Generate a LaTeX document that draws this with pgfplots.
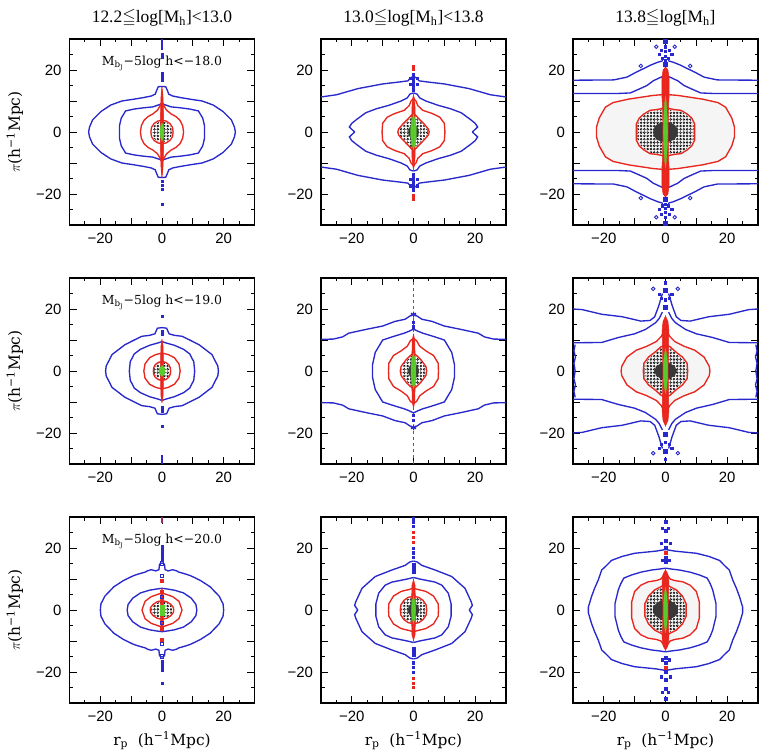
\documentclass[border=0pt]{standalone}
\usepackage{amssymb}
\usepackage{fontspec}
\usepackage{pgfplots}
\pgfplotsset{compat=1.18}
\usepackage{pgfplotstable}
\usetikzlibrary{patterns}
\newfontfamily\ticksf{Liberation Sans}
\newfontfamily\titlef{Liberation Serif}
\newfontfamily\labf{DejaVu Serif}
\definecolor{cblue}{RGB}{40,40,205}
\definecolor{cred}{RGB}{232,38,30}
\definecolor{cgreen}{RGB}{90,205,45}

% small open rings used to shade the innermost density levels
\pgfdeclarepatternformonly{rings}{\pgfqpoint{-1.5pt}{-1.5pt}}{\pgfqpoint{1.5pt}{1.5pt}}%
  {\pgfqpoint{3.3pt}{3.3pt}}%
  {\pgfsetlinewidth{0.5pt}\pgfpathcircle{\pgfqpoint{0pt}{0pt}}{0.95pt}\pgfusepath{stroke}}

% Each contour is stored as one quadrant (rp>=0, pi>=0); the first row is the
% origin, used only to close filled regions. The plots are symmetric in rp and pi.
\newcommand\qline[2]{%
  \addplot[#1, skip coords between index={0}{1}] table {#2};
  \addplot[#1, skip coords between index={0}{1}] table[x expr=-\thisrow{x}] {#2};
  \addplot[#1, skip coords between index={0}{1}] table[y expr=-\thisrow{y}] {#2};
  \addplot[#1, skip coords between index={0}{1}] table[x expr=-\thisrow{x}, y expr=-\thisrow{y}] {#2};
}
\newcommand\qfill[2]{%
  \addplot[#1] table {#2} -- cycle;
  \addplot[#1] table[x expr=-\thisrow{x}] {#2} -- cycle;
  \addplot[#1] table[y expr=-\thisrow{y}] {#2} -- cycle;
  \addplot[#1] table[x expr=-\thisrow{x}, y expr=-\thisrow{y}] {#2} -- cycle;
}

\pgfplotsset{
  panel/.style={
    scale only axis, width=185bp, height=186bp, anchor=south west,
    xmin=-30, xmax=30, ymin=-30, ymax=30,
    xtick={-20,-10,0,10,20}, xticklabels={−20,,0,,20},
    ytick={-20,-10,0,10,20}, yticklabels={−20,,0,,20},
    minor xtick={-25,-15,-5,5,15,25}, minor ytick={-25,-15,-5,5,15,25},
    tick align=inside, major tick length=7bp, minor tick length=3.5bp,
    every tick/.style={black, line width=0.9bp},
    axis line style={line width=1.2bp},
    tick label style={font=\ticksf\fontsize{15}{15}\selectfont},
    yticklabel style={xshift=-4.5bp},
    xticklabel style={yshift=-5bp},
    title style={at={(axis description cs:0.5,1.054)}, anchor=base,
      font=\titlef\fontsize{17.5}{17.5}\selectfont},
    xlabel style={at={(axis description cs:0.5,-0.226)}, anchor=base,
      font=\labf\fontsize{15.5}{15.5}\selectfont},
    ylabel style={at={(axis description cs:-0.295,0.5)}, anchor=center,
      font=\labf\fontsize{15.5}{15.5}\selectfont},
  },
  bl/.style={line width=1.35bp, cblue},
  rd/.style={line width=1.35bp, cred},
  dotfill/.style={draw=none, pattern=rings, pattern color=black},
  corefill/.style={fill=black!78, draw=black!78, line width=0.3bp},
  stripfill/.style={fill=cred, draw=cred, line width=0.5bp},
  greenfill/.style={fill=cgreen, draw=cgreen, line width=0.3bp},
  grayfill/.style={fill=black!4, draw=black!4, line width=0.3bp},
  bmark/.style={only marks, mark=square*, mark size=1.1bp, cblue},
  rmark/.style={only marks, mark=square*, mark size=1.1bp, cred},
}
\newcommand\magnote[1]{\node[font=\labf\fontsize{12.5}{12.5}\selectfont, anchor=base]
  at (axis cs:0,21.5) {M\textsubscript{b\textsubscript{J}}−5log h<−#1};}
\newcommand\xlab{r\textsubscript{p}\ \ (h\textsuperscript{−1}Mpc)}
\newcommand\ylab{$\pi$(h\textsuperscript{−1}Mpc)}

% ---------- panel (1,1) ----------
\pgfplotstableread{
x y
0 0
0 14.7
1.2 14.6
1.7 13.5
2.2 12.2
3.5 11.6
6 11.1
9 10.6
13 10
16.6 8.7
19.8 6.6
22.5 3.9
23.5 1.6
23.8 0
}\Aob
\pgfplotstableread{
x y
0 0
0 9.1
1.5 8.6
3 8.1
6 7.8
9 7.4
11.8 6.8
13.2 4.5
13.8 2
13.8 0
}\Aib
\pgfplotstableread{
x y
0 0
0 9.8
0.6 8.5
1.5 7
3 5.8
4.5 5
5.8 3.8
6.7 2
7 0
}\Aor
\pgfplotstableread{
x y
0 0
0 3.8
1.4 3.5
2.6 2.7
3.4 1.5
3.6 0
}\Air
\pgfplotstableread{
x y
0 0
0 3.4
1.3 3.1
2.3 2.4
3 1.3
3.2 0
}\Adot
\pgfplotstableread{
x y
0 0
0 14.5
0.3 12
0.45 8
0.55 3
0.55 0
}\Astrip
\pgfplotstableread{
x y
0 0
0 2.8
0.4 2
0.6 0.8
0.6 0
}\Agreen

% ---------- panel (1,2) ----------
\pgfplotstableread{
x y
0 0
0 18
1 17.4
1.8 16.5
4 16.2
10 15.5
18 14
25 12
30 11.3
}\Bob
\pgfplotstableread{
x y
0 0
0 12.6
1.2 12.2
2 11
4 10
8 8.6
12 7.5
15.5 6.2
18.5 4
20 2.8
20.8 1.6
19.1 0
}\Bib
\pgfplotstableread{
x y
0 0
0 10.8
0.8 10
1.4 8.5
3 7
6 6
8.5 4.8
10 2.8
10.2 0
}\Bor
\pgfplotstableread{
x y
0 0
0 6
0.8 5.3
2 4
3.5 2.5
4.8 1
5.1 0
}\Bir
\pgfplotstableread{
x y
0 0
0 5.6
0.8 4.9
1.9 3.7
3.3 2.3
4.6 0.9
4.8 0
}\Bdot
\pgfplotstableread{
x y
0 0
0 2.5
0.8 2
1.5 1
1.7 0
}\Bcore
\pgfplotstableread{
x y
0 0
0 12
0.35 10.5
0.5 8
0.55 4
0.55 0
}\Bstrip
\pgfplotstableread{
x y
0 0
0 5.6
0.5 4
0.9 1.5
0.9 0
}\Bgreen

% ---------- panel (1,3) ----------
\pgfplotstableread{
x y
0 0
0.8 23
2.5 22.5
5 21.5
7 20.5
9.3 19.4
12.5 17.7
16.8 16.8
30 16.7
}\Cba
\pgfplotstableread{
x y
0 0
0.8 18
2.5 17.2
4 16.5
6 15
8.2 14
11.4 12.6
16 12.4
30 12.4
}\Cbb
\pgfplotstableread{
x y
0 0
0 12.5
1.5 12
4 11.8
8 11.2
12 10.6
17 9.5
19.5 8
21.5 4.5
22.4 1.5
22.4 0
}\Cor
\pgfplotstableread{
x y
0 0
0 8
1.5 7.5
3 7.2
5 7
7 5.8
8.5 4.5
9.5 2.5
9.5 0
}\Cir
\pgfplotstableread{
x y
0 0
0 7.7
1.5 7.2
3 6.9
4.8 6.7
6.7 5.5
8.1 4.3
9.1 2.4
9.1 0
}\Cdot
\pgfplotstableread{
x y
0 0
0 3.3
1.5 3
3 2.2
3.8 1
3.9 0
}\Ccore
\pgfplotstableread{
x y
0 0
0 21
0.8 20
1.2 17
1.2 12
0.95 8
0.85 0
}\Cstrip
\pgfplotstableread{
x y
0 0
0 11.5
0.3 9
0.6 4
0.7 0
}\Cgreen

% ---------- panel (2,1) ----------
\pgfplotstableread{
x y
0 0
0 14
1.5 13.8
2.3 12
4 11.5
6.5 11.2
9 10
12 8.5
16.2 5.3
18.1 1.6
18.3 0
}\Dob
\pgfplotstableread{
x y
0 0
0 9.5
1.5 9
4 8.3
7 7
9 5.5
10.3 3
10.6 0
}\Dib
\pgfplotstableread{
x y
0 0
0 5.8
2 5.3
4 4.3
5.5 2.3
5.9 0
}\Dor
\pgfplotstableread{
x y
0 0
0 3
1.2 2.8
2.2 2
2.7 1
2.8 0
}\Dir
\pgfplotstableread{
x y
0 0
0 2.7
1.1 2.5
2 1.8
2.5 0.9
2.6 0
}\Ddot
\pgfplotstableread{
x y
0 0
0 10.2
0.35 8
0.45 4
0.45 0
}\Dstrip
\pgfplotstableread{
x y
0 0
0 1.7
0.6 1.2
1 0.5
1 0
}\Dgreen

% ---------- panel (2,2) ----------
\pgfplotstableread{
x y
0 0
0 18.5
1.5 17.5
2.7 16.7
6 16
10 14.5
15 13.5
21 12.2
23 11
26 10.3
30 10.2
}\Eob
\pgfplotstableread{
x y
0 0
0 13.5
1.5 12.8
3 12.2
6 11.3
10 10
12.4 6
13.3 2
13.3 0
}\Eib
\pgfplotstableread{
x y
0 0
0 10.5
1 9.8
2 8
4 6.5
6.5 5
8 2.5
8.1 0
}\Eor
\pgfplotstableread{
x y
0 0
0 5.8
1 5
2.5 3.5
4 1.5
4.3 0
}\Eir
\pgfplotstableread{
x y
0 0
0 5.4
0.9 4.7
2.3 3.3
3.7 1.4
4 0
}\Edot
\pgfplotstableread{
x y
0 0
0 2.8
0.8 2.2
1.5 1
1.7 0
}\Ecore
\pgfplotstableread{
x y
0 0
0 12
0.4 10
0.5 6
0.5 0
}\Estrip
\pgfplotstableread{
x y
0 0
0 5.5
0.5 4
0.8 1.5
0.8 0
}\Egreen

% ---------- panel (2,3) ----------
\pgfplotstableread{
x y
0 0
1 25
2.2 21
3.5 17.5
5 16.3
8 16.1
14 17.5
20.7 18.3
27 19.8
30 20
}\Fba
\pgfplotstableread{
x y
0 0
1 19
2 17
3.2 15.6
6.5 13.4
10 12
15.3 10.8
20.7 9.2
30 9.1
}\Fbb
\pgfplotstableread{
x y
0 0
29.3 8.5
29.7 6.5
29.2 4.5
29.7 2.5
29.3 0
}\Fedge
\pgfplotstableread{
x y
0 0
0 13.5
1.5 11
3 9.5
6 8
9.5 6.7
12.5 4.5
14.2 1.5
14.4 0
}\Forc
\pgfplotstableread{
x y
0 0
0 8.5
1.5 7.8
3.5 6
5.5 4.5
7 2.5
7.2 0
}\Fir
\pgfplotstableread{
x y
0 0
0 8.1
1.4 7.4
3.3 5.7
5.2 4.2
6.7 2.3
6.9 0
}\Fdot
\pgfplotstableread{
x y
0 0
0 2.8
1.5 2.4
3 1.4
3.6 0
}\Fcore
\pgfplotstableread{
x y
0 0
0 17.7
0.8 16
1.1 13
1 9
0.85 0
}\Fstrip
\pgfplotstableread{
x y
0 0
0 7.2
0.4 5
0.7 2
0.7 0
}\Fgreen

% ---------- panel (3,1) ----------
\pgfplotstableread{
x y
0 0
0 15.2
0.8 14.8
1 13
2 12.6
3.5 13
4.8 12.6
5.5 12.2
7 11.8
9.2 11.1
12.5 9.5
15.6 7.5
18.5 4.5
19.8 2
20 0
}\Gob
\pgfplotstableread{
x y
0 0
0 7
1.5 6.8
4 6.4
7 5.5
9.5 3.8
11 1.8
11.3 0
}\Gib
\pgfplotstableread{
x y
0 0
0 5.5
1.5 5
3.5 4.3
5.5 2.8
6.5 0
}\Gor
\pgfplotstableread{
x y
0 0
0 3
1.5 2.7
2.9 1.8
3.7 0.8
3.8 0
}\Gir
\pgfplotstableread{
x y
0 0
0 2.7
1.4 2.4
2.7 1.6
3.4 0.7
3.5 0
}\Gdot
\pgfplotstableread{
x y
0 0
0 7
0.4 5
0.5 0
}\Gstrip
\pgfplotstableread{
x y
0 0
0 1.5
0.6 1.5
0.6 0
}\Ggreen

% ---------- panel (3,2) ----------
\pgfplotstableread{
x y
0 0
0 15.8
1.2 15.5
2.7 14.4
7 12.9
12.4 10.8
16.7 7
18.7 2.7
19.1 1.5
18.1 0
}\Hob
\pgfplotstableread{
x y
0 0
0 10.5
2 10
4 9.6
7 9
9.2 8
11.3 5.4
12.2 2
12.2 0
}\Hib
\pgfplotstableread{
x y
0 0
0 7
1.5 6.6
4 6
6.5 4.5
8 2
8.1 0
}\Hor
\pgfplotstableread{
x y
0 0
0 4.4
1.7 4.1
3.1 3.1
4.1 1.6
4.3 0
}\Hir
\pgfplotstableread{
x y
0 0
0 4.1
1.6 3.8
2.9 2.9
3.8 1.5
4 0
}\Hdot
\pgfplotstableread{
x y
0 0
0 2
1.2 1.6
1.9 0
}\Hcore
\pgfplotstableread{
x y
0 0
0 9.8
0.5 8
0.6 4
0.6 0
}\Hstrip
\pgfplotstableread{
x y
0 0
0 4.3
0.4 3
0.6 1
0.6 0
}\Hgreen

% ---------- panel (3,3) ----------
\pgfplotstableread{
x y
0 0
0 19.5
3 19
5 18.8
10 18.3
14 17.3
17.5 16
19.5 14
20.7 12.9
21.8 9.7
23 7
24 4.3
25 1
25 0
}\Iob
\pgfplotstableread{
x y
0 0
0 13.5
2 13.2
4.5 12.9
8 12.2
11 11.3
13.5 10.3
14.5 8.5
15.3 6.5
16.4 2
16.4 0
}\Iib
\pgfplotstableread{
x y
0 0
0 12
1.5 10
3 9.5
5.6 9.1
8 8
10 6
11 2.5
11 0
}\Ior
\pgfplotstableread{
x y
0 0
0 8.5
1.5 7.5
3.5 6.5
5.5 4.5
6.7 2
6.7 0
}\Iir
\pgfplotstableread{
x y
0 0
0 8.1
1.4 7.1
3.3 6.2
5.2 4.3
6.3 1.9
6.3 0
}\Idot
\pgfplotstableread{
x y
0 0
0 3.5
1.5 3
3 2
4 0.8
4 0
}\Icore
\pgfplotstableread{
x y
0 0
0 13
0.8 11.5
1.1 9
0.95 5
0.85 0
}\Istrip
\pgfplotstableread{
x y
0 0
0 7.3
0.4 5
0.6 2
0.6 0
}\Igreen

\begin{document}
\begin{tikzpicture}
\path[use as bounding box] (0,0) rectangle (762bp,754bp);

% ===== row 1 =====
\begin{axis}[panel, at={(69.5bp,529bp)},
  title={12.2$\leqq$log[M\textsubscript{h}]<13.0}, ylabel={\ylab}]
  \qline{bl}{\Aob}
  \qline{bl}{\Aib}
  \qline{rd}{\Aor}
  \qfill{dotfill}{\Adot}
  \qline{rd}{\Air}
  \qfill{stripfill}{\Astrip}
  \qfill{greenfill}{\Agreen}
  \addplot[cblue, line width=1.2bp] coordinates {(0,26.5) (0,30)};
  \addplot[bmark] coordinates {(0,25) (0,24) (0,18.8) (0,17.7) (0,16.7)
    (0,-16) (0,-17.2) (0,-18.5) (0,-23.2)};
  \magnote{18.0}
\end{axis}

\begin{axis}[panel, at={(321bp,529bp)},
  title={13.0$\leqq$log[M\textsubscript{h}]<13.8}]
  \qline{bl}{\Bob}
  \qline{bl}{\Bib}
  \qline{rd}{\Bor}
  \qfill{dotfill}{\Bdot}
  \qfill{corefill}{\Bcore}
  \qline{rd}{\Bir}
  \qfill{stripfill}{\Bstrip}
  \qfill{greenfill}{\Bgreen}
  \addplot[bmark] coordinates {(0,13.5) (0,14.5) (0,15.6) (0,16.6) (0,17.6) (0,18.6)
    (1.2,15.3) (-1.2,15.3) (1.2,17.3) (-1.2,17.3)
    (0,-13.5) (0,-14.5) (0,-15.6) (0,-16.6) (0,-17.6) (0,-18.6)
    (1.2,-15.3) (-1.2,-15.3) (1.2,-17.3) (-1.2,-17.3)};
  \addplot[rmark] coordinates {(0,20.2) (0,21.2) (0,-20.3) (0,-21.5)};
\end{axis}

\begin{axis}[panel, at={(573bp,529bp)},
  title={13.8$\leqq$log[M\textsubscript{h}]}]
  \qfill{grayfill}{\Cor}
  \qline{bl}{\Cba}
  \qline{bl}{\Cbb}
  \qline{rd}{\Cor}
  \qfill{dotfill}{\Cdot}
  \qfill{corefill}{\Ccore}
  \qline{rd}{\Cir}
  \qfill{stripfill}{\Cstrip}
  \qfill{greenfill}{\Cgreen}
  \addplot[bmark, mark size=2bp] coordinates {(0,29.3) (0,21.8) (0,-21.8) (0,-29.3)};
  \addplot[bmark] coordinates {(0,27.5) (0,26) (0,24.5) (0,23.2)
    (1.3,26.5) (-1.3,26.5) (2,25) (-2,25) (1,23.8) (-1,23.8)
    (0,-27.5) (0,-26) (0,-24.5) (0,-23.2)
    (1.3,-26.5) (-1.3,-26.5) (2,-25) (-2,-25) (1,-23.8) (-1,-23.8)};
  \addplot[only marks, mark=o, mark size=1.8bp, cblue, line width=0.9bp]
    coordinates {(8,21.3) (-8,21.3) (8,-21.3) (-8,-21.3) (3,27.5) (-3,27.5) (3,-27.5) (-3,-27.5)};
\end{axis}

% ===== row 2 =====
\begin{axis}[panel, at={(69.5bp,290bp)}, ylabel={\ylab}]
  \qline{bl}{\Dob}
  \qline{bl}{\Dib}
  \qline{rd}{\Dor}
  \qfill{dotfill}{\Ddot}
  \qline{rd}{\Dir}
  \qfill{stripfill}{\Dstrip}
  \qfill{greenfill}{\Dgreen}
  \addplot[cblue, line width=1.2bp] coordinates {(0,-27) (0,-30)};
  \addplot[bmark] coordinates {(0,17.7) (0,-17.7) (0,11.8) (0,12.8) (0,-11.8) (0,-12.8)};
  \magnote{19.0}
\end{axis}

\begin{axis}[panel, at={(321bp,290bp)}]
  \addplot[cred, line width=1bp, dashed] coordinates {(0,-30) (0,30)};
  \qline{bl}{\Eob}
  \qline{bl}{\Eib}
  \qline{rd}{\Eor}
  \qfill{dotfill}{\Edot}
  \qfill{corefill}{\Ecore}
  \qline{rd}{\Eir}
  \qfill{stripfill}{\Estrip}
  \qfill{greenfill}{\Egreen}
  \addplot[only marks, mark=asterisk, mark size=3bp, cblue, line width=1bp]
    coordinates {(0,18.2) (0,-18.2)};
  \addplot[bmark] coordinates {(0,14.3) (0,15.8) (0,-14.3) (0,-15.8)};
\end{axis}

\begin{axis}[panel, at={(573bp,290bp)}]
  \qfill{grayfill}{\Forc}
  \qline{bl}{\Fba}
  \qline{bl}{\Fbb}
  \qline{bl}{\Fedge}
  \qline{rd}{\Forc}
  \qfill{dotfill}{\Fdot}
  \qfill{corefill}{\Fcore}
  \qline{rd}{\Fir}
  \qfill{stripfill}{\Fstrip}
  \qfill{greenfill}{\Fgreen}
  \addplot[bmark, mark size=2bp] coordinates {(0,26) (0,-26) (0,20.5) (0,-20.5)};
  \addplot[bmark] coordinates {(0,28.5) (0,23) (1.3,23.5) (-1.3,23.5) (2,24.8) (-2,24.8)
    (0,-28.5) (0,-23) (1.3,-23.5) (-1.3,-23.5) (2,-24.8) (-2,-24.8)};
  \addplot[only marks, mark=o, mark size=1.8bp, cblue, line width=0.9bp]
    coordinates {(4,26.5) (-4,26.5) (4,-26.5) (-4,-26.5)};
\end{axis}

% ===== row 3 =====
\begin{axis}[panel, at={(69.5bp,51bp)}, ylabel={\ylab}, xlabel={\xlab}]
  \qline{bl}{\Gob}
  \qline{bl}{\Gib}
  \qline{rd}{\Gor}
  \qfill{dotfill}{\Gdot}
  \qline{rd}{\Gir}
  \qfill{stripfill}{\Gstrip}
  \qfill{greenfill}{\Ggreen}
  \addplot[cred!60!cblue, line width=1.2bp] coordinates {(0,28) (0,30)};
  \addplot[only marks, mark=square, mark size=1.6bp, cblue, line width=1bp]
    coordinates {(0,15) (0,11) (0,4.3) (0,-15) (0,-11) (0,-4.3)};
  \addplot[rmark, mark size=1.5bp] coordinates {(0,9.5) (0,6) (0,-9.5) (0,-6)};
  \addplot[bmark] coordinates {(0,16.5) (0,17.5) (0,18.5) (0,19.5) (0,20.5)
    (0,-16.5) (0,-17.5) (0,-18.5) (0,-19.5) (0,-23.5)};
  \magnote{20.0}
\end{axis}

\begin{axis}[panel, at={(321bp,51bp)}, xlabel={\xlab}]
  \qline{bl}{\Hob}
  \qline{bl}{\Hib}
  \qline{rd}{\Hor}
  \qfill{dotfill}{\Hdot}
  \qfill{corefill}{\Hcore}
  \qline{rd}{\Hir}
  \qfill{stripfill}{\Hstrip}
  \qfill{greenfill}{\Hgreen}
  \addplot[bmark, mark size=1.5bp] coordinates {(0,12.5) (0,13.5) (0,14.5)
    (0,-12.5) (0,-13.5) (0,-14.5)};
  \addplot[bmark] coordinates {(0,17) (0,18.5) (0,20) (0,27) (0,28.5) (0,29.5)
    (0,-17) (0,-18.5) (0,-20)};
  \addplot[rmark] coordinates {(0,22) (0,23.5) (0,25) (0,-22) (0,-23.5) (0,-25)};
\end{axis}

\begin{axis}[panel, at={(573bp,51bp)}, xlabel={\xlab}]
  \qfill{grayfill}{\Ior}
  \qline{bl}{\Iob}
  \qline{bl}{\Iib}
  \qline{rd}{\Ior}
  \qfill{dotfill}{\Idot}
  \qfill{corefill}{\Icore}
  \qline{rd}{\Iir}
  \qfill{stripfill}{\Istrip}
  \qfill{greenfill}{\Igreen}
  \addplot[bmark, mark size=1.5bp] coordinates {(0,15.5) (0,17) (0,20) (0,22.5)
    (0,25.5) (0,28.5) (0,-15.5) (0,-17) (0,-20) (0,-22.5) (0,-25.5) (0,-28.5)};
  \addplot[bmark] coordinates {(1.2,16) (-1.2,16) (1.5,21.5) (-1.5,21.5)
    (1,26.5) (-1,26.5) (1.2,-16) (-1.2,-16) (1.5,-21.5) (-1.5,-21.5)
    (1,-26.5) (-1,-26.5)};
  \addplot[rmark, mark size=1.5bp] coordinates {(0,18.5) (0,-18.5)};
\end{axis}
\end{tikzpicture}
\end{document}
